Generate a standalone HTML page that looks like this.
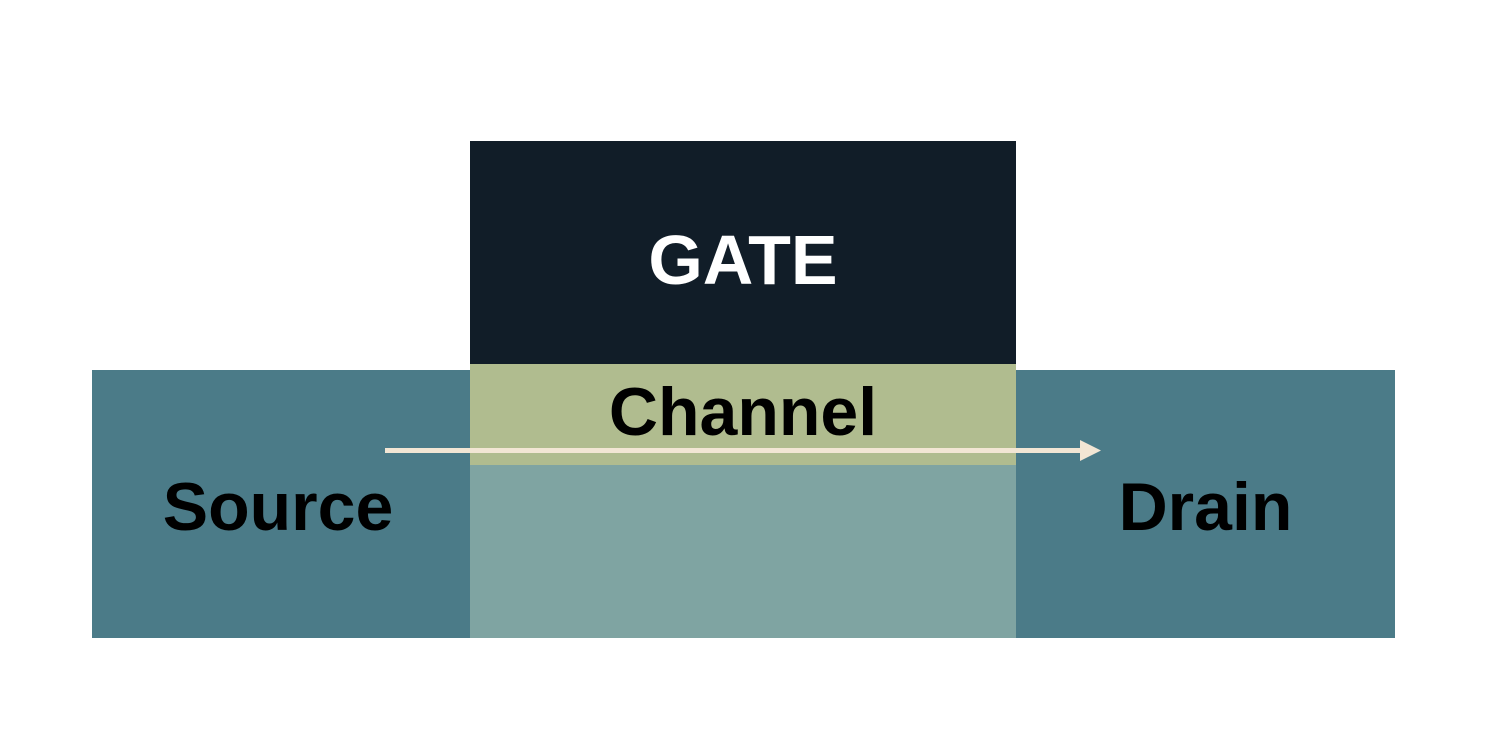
<!DOCTYPE html>
<html><head><style>
body{margin:0;width:1500px;height:734px;background:#fff;position:relative;overflow:hidden;font-family:"Liberation Sans",sans-serif;font-weight:bold}
div{position:absolute}
.t{display:flex;align-items:center;justify-content:center}
</style></head><body>
<div class="t" style="left:92px;top:370px;width:378px;height:268px;background:#4b7b88;font-size:68px;color:#000;padding-right:6px;padding-top:6px;box-sizing:border-box">Source</div>
<div class="t" style="left:1016px;top:370px;width:379px;height:268px;background:#4b7b88;font-size:68px;color:#000;padding-top:6px;box-sizing:border-box">Drain</div>
<div class="t" style="left:470px;top:141px;width:546px;height:223px;background:#111d28;font-size:70px;color:#fff;padding-top:14px;box-sizing:border-box">GATE</div>
<div class="t" style="left:470px;top:364px;width:546px;height:101px;background:#b0bc8f;font-size:68px;color:#000;padding-bottom:6px;box-sizing:border-box">Channel</div>
<div style="left:470px;top:465px;width:546px;height:173px;background:#7fa4a2"></div>
<svg style="position:absolute;left:0;top:0" width="1500" height="734"><line x1="385" y1="450.5" x2="1082" y2="450.5" stroke="#f2e6d4" stroke-width="5"/><polygon points="1080,440 1101,450.5 1080,461" fill="#f2e6d4"/></svg>
</body></html>
